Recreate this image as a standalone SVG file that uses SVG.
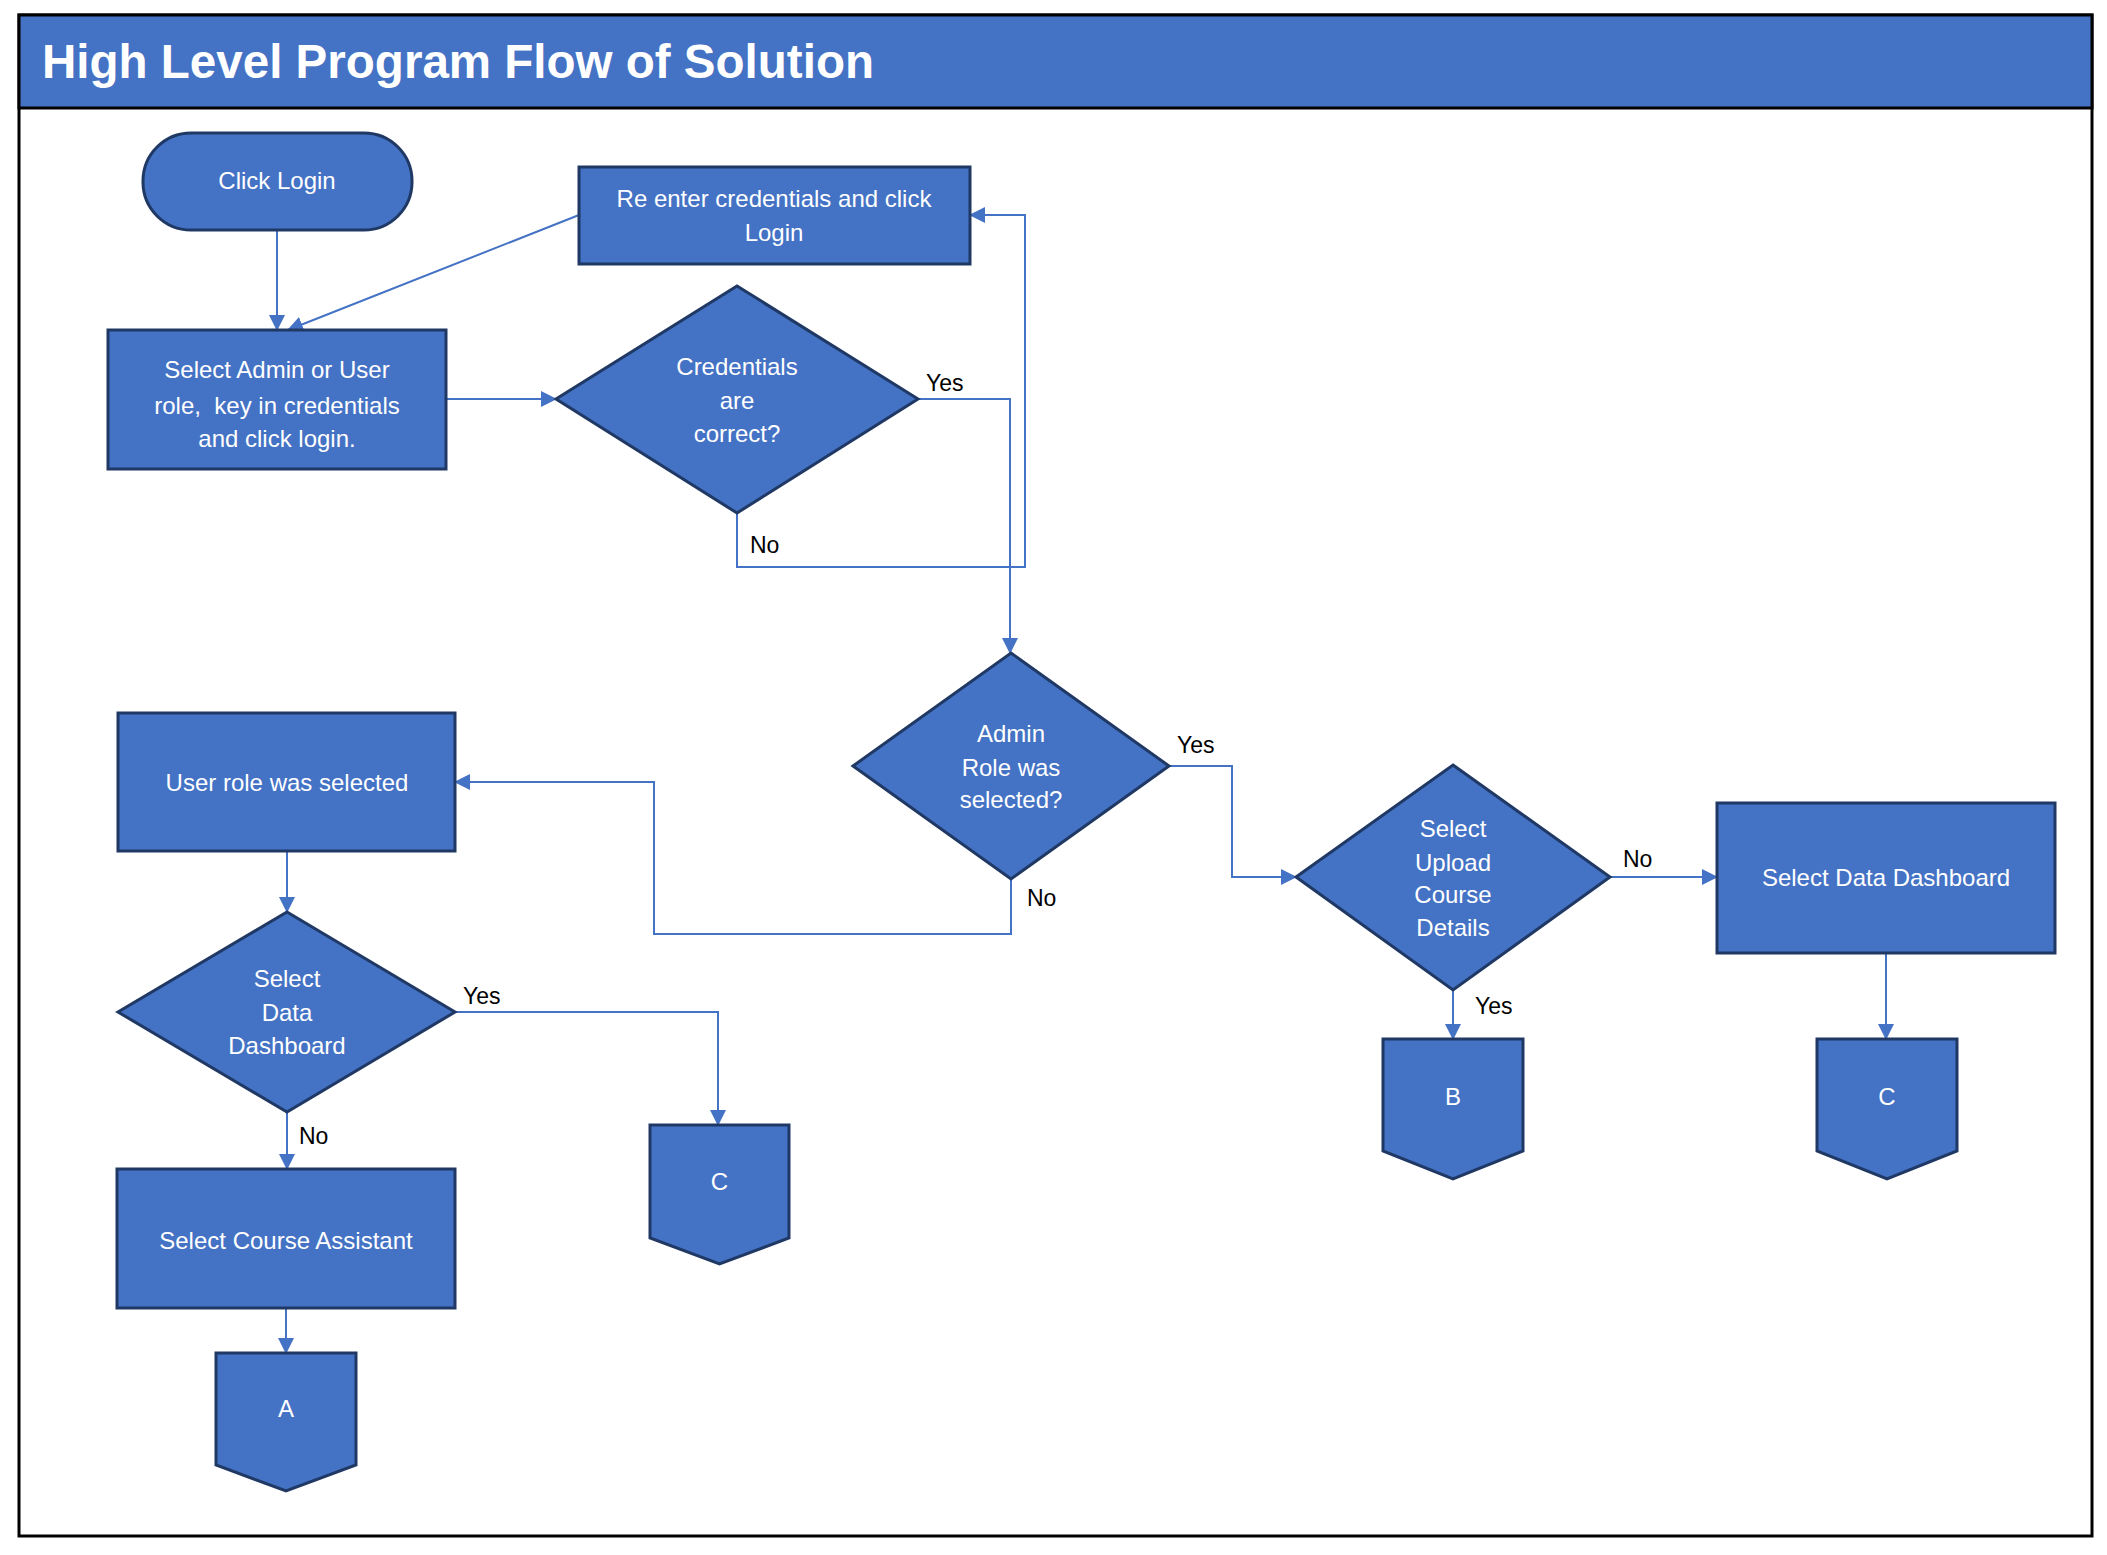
<svg xmlns="http://www.w3.org/2000/svg" width="2107" height="1555" viewBox="0 0 2107 1555">
<style>
.n{fill:#4472C4;stroke:#1F3864;stroke-width:3}
.t{fill:#FFFFFF;font-family:"Liberation Sans",Arial,sans-serif;font-size:24px;text-anchor:middle;white-space:pre}
.l{fill:#000000;font-family:"Liberation Sans",Arial,sans-serif;font-size:23px}
.c{fill:none;stroke:#4472C4;stroke-width:2}
</style>
<defs>
<marker id="ah" markerUnits="userSpaceOnUse" markerWidth="16" markerHeight="16" refX="15" refY="8" orient="auto">
<path d="M0,0 L16,8 L0,16 z" fill="#4472C4"/>
</marker>
</defs>
<rect x="0" y="0" width="2107" height="1555" fill="#FFFFFF"/>
<g id="frame">
<rect x="19" y="15" width="2073" height="1521" fill="#FFFFFF" stroke="#000000" stroke-width="3"/>
<rect x="19" y="15" width="2073" height="93" fill="#4472C4" stroke="#000000" stroke-width="3"/>
<text x="42" y="78" textLength="832" lengthAdjust="spacingAndGlyphs" style="fill:#FFFFFF;font-family:'Liberation Sans',Arial,sans-serif;font-size:48px;font-weight:bold">High Level Program Flow of Solution</text>
</g>
<g id="connectors">
<path class="c" d="M277,230 V330" marker-end="url(#ah)"/>
<path class="c" d="M579,215 L288,330" marker-end="url(#ah)"/>
<path class="c" d="M446,399 H556" marker-end="url(#ah)"/>
<path class="c" d="M918,399 H1010 V653" marker-end="url(#ah)"/>
<path class="c" d="M737,513 V567 H1025 V215 H970" marker-end="url(#ah)"/>
<path class="c" d="M1011,879 V934 H654 V782 H455" marker-end="url(#ah)"/>
<path class="c" d="M1169,766 H1232 V877 H1296" marker-end="url(#ah)"/>
<path class="c" d="M1610,877 H1717" marker-end="url(#ah)"/>
<path class="c" d="M1453,990 V1039" marker-end="url(#ah)"/>
<path class="c" d="M1886,953 V1039" marker-end="url(#ah)"/>
<path class="c" d="M287,851 V912" marker-end="url(#ah)"/>
<path class="c" d="M455,1012 H718 V1125" marker-end="url(#ah)"/>
<path class="c" d="M287,1112 V1169" marker-end="url(#ah)"/>
<path class="c" d="M286,1308 V1353" marker-end="url(#ah)"/>
<text class="l" x="926" y="391">Yes</text>
<text class="l" x="750" y="553">No</text>
<text class="l" x="1177" y="753">Yes</text>
<text class="l" x="1027" y="906">No</text>
<text class="l" x="1623" y="867">No</text>
<text class="l" x="1475" y="1014">Yes</text>
<text class="l" x="463" y="1004">Yes</text>
<text class="l" x="299" y="1144">No</text>
</g>
<g id="click-login">
<rect class="n" x="143" y="133" width="269" height="97" rx="48" ry="48"/>
<text class="t" x="277" y="189">Click Login</text>
</g>
<g id="reenter">
<rect class="n" x="579" y="167" width="391" height="97"/>
<text class="t" x="774" y="207">Re enter credentials and click</text>
<text class="t" x="774" y="241">Login</text>
</g>
<g id="select-role">
<rect class="n" x="108" y="330" width="338" height="139"/>
<text class="t" x="277" y="378">Select Admin or User</text>
<text class="t" x="277" y="414">role,  key in credentials</text>
<text class="t" x="277" y="447">and click login.</text>
</g>
<g id="credentials">
<polygon class="n" points="737,286 918,399 737,513 556,399"/>
<text class="t" x="737" y="375">Credentials</text>
<text class="t" x="737" y="409">are</text>
<text class="t" x="737" y="442">correct?</text>
</g>
<g id="admin-role">
<polygon class="n" points="1011,653 1169,766 1011,879 853,766"/>
<text class="t" x="1011" y="742">Admin</text>
<text class="t" x="1011" y="776">Role was</text>
<text class="t" x="1011" y="808">selected?</text>
</g>
<g id="user-role">
<rect class="n" x="118" y="713" width="337" height="138"/>
<text class="t" x="287" y="791">User role was selected</text>
</g>
<g id="upload">
<polygon class="n" points="1453,765 1610,877 1453,990 1296,877"/>
<text class="t" x="1453" y="837">Select</text>
<text class="t" x="1453" y="871">Upload</text>
<text class="t" x="1453" y="903">Course</text>
<text class="t" x="1453" y="936">Details</text>
</g>
<g id="data-dashboard-admin">
<rect class="n" x="1717" y="803" width="338" height="150"/>
<text class="t" x="1886" y="886">Select Data Dashboard</text>
</g>
<g id="select-dd-user">
<polygon class="n" points="287,912 455,1012 287,1112 118,1012"/>
<text class="t" x="287" y="987">Select</text>
<text class="t" x="287" y="1021">Data</text>
<text class="t" x="287" y="1054">Dashboard</text>
</g>
<g id="course-assistant">
<rect class="n" x="117" y="1169" width="338" height="139"/>
<text class="t" x="286" y="1249">Select Course Assistant</text>
</g>
<g id="offpage-c-left">
<polygon class="n" points="650,1125 789,1125 789,1238 719.5,1264 650,1238"/>
<text class="t" x="719.5" y="1190">C</text>
</g>
<g id="offpage-a">
<polygon class="n" points="216,1353 356,1353 356,1465 286,1491 216,1465"/>
<text class="t" x="286" y="1417">A</text>
</g>
<g id="offpage-b">
<polygon class="n" points="1383,1039 1523,1039 1523,1151 1453,1179 1383,1151"/>
<text class="t" x="1453" y="1105">B</text>
</g>
<g id="offpage-c-right">
<polygon class="n" points="1817,1039 1957,1039 1957,1151 1887,1179 1817,1151"/>
<text class="t" x="1887" y="1105">C</text>
</g>
</svg>
